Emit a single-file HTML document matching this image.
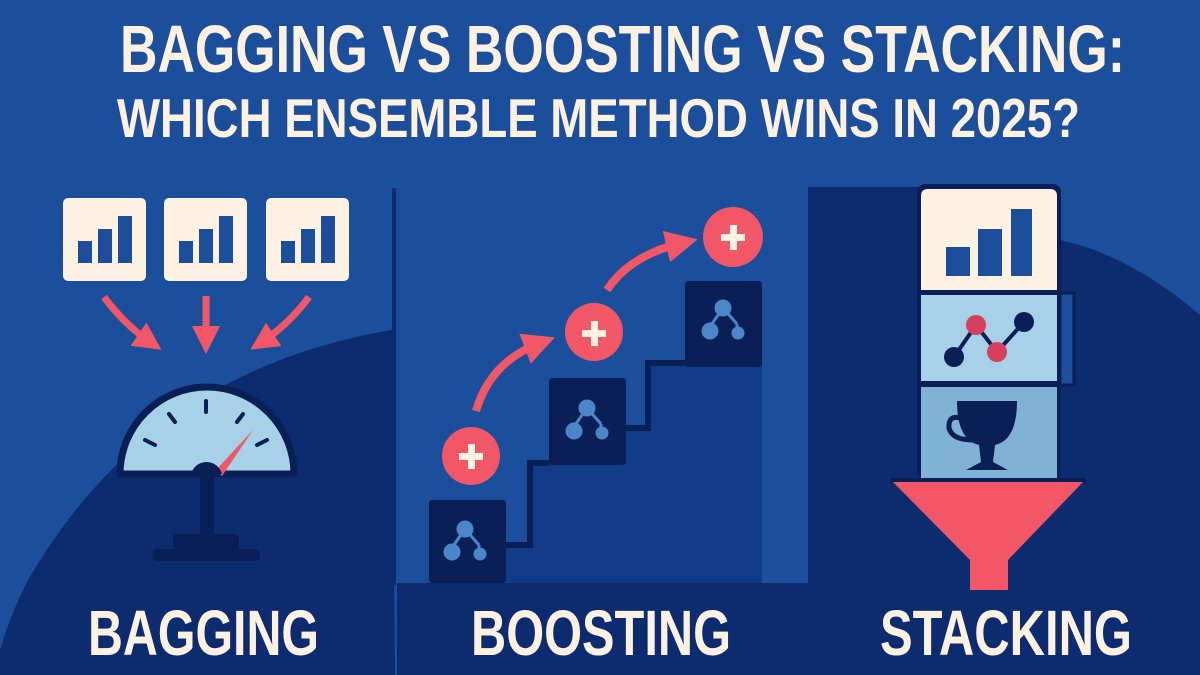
<!DOCTYPE html>
<html><head><meta charset="utf-8"><style>html,body{margin:0;padding:0;background:#1c4f9b}svg{display:block}</style></head>
<body>
<svg width="1200" height="675" viewBox="0 0 1200 675" xmlns="http://www.w3.org/2000/svg">
<defs>
<marker id="ah" markerWidth="4" markerHeight="4" refX="2" refY="2" orient="auto" markerUnits="strokeWidth"><path d="M0,0 L4,2 L0,4 Z" fill="#f25767"/></marker>
</defs>
<rect width="1200" height="675" fill="#1c4f9b"/>
<!-- title -->
<g font-family="Liberation Sans, sans-serif" font-weight="bold" fill="#fdf1e1">
<text x="120" y="72" font-size="67" textLength="1005" lengthAdjust="spacingAndGlyphs">BAGGING VS BOOSTING VS STACKING:</text>
<text x="117" y="137" font-size="55" textLength="963" lengthAdjust="spacingAndGlyphs">WHICH ENSEMBLE METHOD WINS IN 2025?</text>
</g>
<!-- left hill -->
<path d="M392,330 Q150,370 28,580 Q10,615 0,650 L0,675 L395,675 Z" fill="#0d2c70"/>
<line x1="394" y1="188" x2="394" y2="585" stroke="#0d2c70" stroke-width="4"/>
<!-- bar boxes -->
<g>
<rect x="63" y="198" width="83" height="83" rx="5" fill="#fdf1e1"/>
<rect x="78" y="241" width="14" height="22" fill="#1c4f9b"/><rect x="98" y="229" width="14" height="34" fill="#1c4f9b"/><rect x="118" y="216" width="14" height="47" fill="#1c4f9b"/>
<rect x="164" y="198" width="83" height="83" rx="5" fill="#fdf1e1"/>
<rect x="179" y="241" width="14" height="22" fill="#1c4f9b"/><rect x="199" y="229" width="14" height="34" fill="#1c4f9b"/><rect x="219" y="216" width="14" height="47" fill="#1c4f9b"/>
<rect x="266" y="198" width="83" height="83" rx="5" fill="#fdf1e1"/>
<rect x="281" y="241" width="14" height="22" fill="#1c4f9b"/><rect x="301" y="229" width="14" height="34" fill="#1c4f9b"/><rect x="321" y="216" width="14" height="47" fill="#1c4f9b"/>
</g>
<!-- bagging arrows -->
<g stroke="#f25767" stroke-width="7" fill="none" marker-end="url(#ah)">
<path d="M104,297 Q125,325 150,342"/>
<path d="M206,296 L206,340"/>
<path d="M309,297 Q288,325 262,342"/>
</g>
<!-- gauge -->
<path d="M120,474 A87,87 0 0 1 294,474 Z" fill="#a6d1e6" stroke="#0a1f55" stroke-width="7" stroke-linejoin="round"/>
<g stroke="#0a1f55" stroke-width="4" stroke-linecap="round">
<line x1="206" y1="401" x2="206" y2="412"/>
<line x1="169" y1="414" x2="175" y2="422"/>
<line x1="243" y1="414" x2="237" y2="422"/>
<line x1="145" y1="440" x2="155" y2="445"/>
<line x1="267" y1="440" x2="257" y2="445"/>
</g>
<path d="M216,470 L253,430 L222,476 Z" fill="#f25767"/>
<path d="M191,474 A16,16 0 0 1 222,474 Z" fill="#0a1f55"/>
<rect x="200" y="474" width="14" height="62" fill="#0a1f55"/>
<rect x="173" y="534" width="66" height="16" rx="4" fill="#0a1f55"/>
<rect x="152" y="549" width="108" height="12" rx="5" fill="#0a1f55"/>
<!-- middle -->
<rect x="397" y="583" width="411" height="92" fill="#0d2c70"/>
<path d="M506,583 L506,545 L530,545 L530,463 L626,463 L626,428 L648,428 L648,363 L762,363 L762,583 Z" fill="#113b86"/>
<path d="M506,545 L530,545 L530,463 L549,463 M626,428 L648,428 L648,363 L685,363" stroke="#0a1f55" stroke-width="6" fill="none"/>
<g fill="#0a1f55">
<rect x="429" y="500" width="77" height="83" rx="3"/>
<rect x="549" y="378" width="77" height="87" rx="3"/>
<rect x="685" y="281" width="77" height="86" rx="3"/>
</g>
<g fill="#4a86c8" stroke="#4a86c8" stroke-width="3">
<g transform="translate(465,529)"><line x1="0" y1="0" x2="-14" y2="20"/><line x1="0" y1="0" x2="14" y2="16" /><line x1="14" y1="16" x2="14" y2="23"/><circle cx="0" cy="0" r="7"/><circle cx="-13" cy="23" r="7"/><circle cx="15" cy="25" r="5"/></g>
<g transform="translate(587,408)"><line x1="0" y1="0" x2="-14" y2="20"/><line x1="0" y1="0" x2="14" y2="16" /><line x1="14" y1="16" x2="14" y2="23"/><circle cx="0" cy="0" r="7"/><circle cx="-13" cy="23" r="7"/><circle cx="15" cy="25" r="5"/></g>
<g transform="translate(723,308)"><line x1="0" y1="0" x2="-14" y2="20"/><line x1="0" y1="0" x2="14" y2="16" /><line x1="14" y1="16" x2="14" y2="23"/><circle cx="0" cy="0" r="7"/><circle cx="-13" cy="23" r="7"/><circle cx="15" cy="25" r="5"/></g>
</g>
<g stroke="#f25767" stroke-width="8" fill="none" marker-end="url(#ah)">
<path d="M476,411 Q490,362 540,343"/>
<path d="M607,290 Q630,255 682,243"/>
</g>
<g>
<circle cx="471" cy="456" r="29" fill="#f25767"/>
<circle cx="594" cy="332" r="29" fill="#f25767"/>
<circle cx="733" cy="237" r="30" fill="#f25767"/>
<g fill="#fdf1e1">
<rect x="459" y="453" width="24" height="7"/><rect x="468" y="444" width="7" height="25"/>
<rect x="582" y="330" width="24" height="7"/><rect x="591" y="321" width="7" height="25"/>
<rect x="721" y="234" width="24" height="7"/><rect x="730" y="225" width="7" height="25"/>
</g>
</g>
<!-- right -->
<rect x="808" y="187" width="392" height="488" fill="#0d2c70"/>
<path d="M1060,187 L1200,187 L1200,315 Q1130,255 1060,240 Z" fill="#1c4f9b"/>
<rect x="1060" y="293" width="14" height="92" fill="#1c4f9b" stroke="#0a1f55" stroke-width="3"/>
<rect x="917" y="184" width="144" height="296" rx="8" fill="#0a1f55"/>
<path d="M921,296 L921,196 Q921,189 928,189 L1050,189 Q1057,189 1057,196 L1057,290 L921,290 Z" fill="#fdf1e1"/>
<rect x="946" y="247" width="24" height="29" fill="#1c4f9b"/><rect x="978" y="229" width="24" height="47" fill="#1c4f9b"/><rect x="1011" y="209" width="21" height="67" fill="#1c4f9b"/>
<rect x="921" y="295" width="136" height="86" fill="#a6d1e6"/>
<rect x="921" y="387" width="136" height="91" fill="#7fb2d4"/>
<g stroke="#0a1f55" stroke-width="4"><polyline points="954,357 976,325 997,352 1024,322" fill="none"/></g>
<circle cx="954" cy="357" r="10" fill="#0a1f55"/><circle cx="1024" cy="322" r="10" fill="#0a1f55"/>
<circle cx="976" cy="325" r="10" fill="#d6405a"/><circle cx="997" cy="352" r="10" fill="#d6405a"/>
<path d="M957,401 L1017,401 Q1017,440 995,445 L993,462 L1008,470 L966,470 L981,462 L979,445 Q957,440 957,401 Z" fill="#0a1f55"/>
<path d="M960,418 Q948,415 949,428 Q952,440 973,440" fill="none" stroke="#0a1f55" stroke-width="5"/>
<rect x="890" y="478" width="196" height="5" fill="#0a1f55"/>
<path d="M893,482 L1083,482 L1008,560 L1008,590 L970,590 L970,560 Z" fill="#f25767"/>
<!-- labels -->
<g font-family="Liberation Sans, sans-serif" font-weight="bold" fill="#fdf1e1" font-size="64">
<text x="88" y="655" textLength="231" lengthAdjust="spacingAndGlyphs">BAGGING</text>
<text x="471" y="655" textLength="260" lengthAdjust="spacingAndGlyphs">BOOSTING</text>
<text x="880" y="655" textLength="252" lengthAdjust="spacingAndGlyphs">STACKING</text>
</g>
</svg>
</body></html>
